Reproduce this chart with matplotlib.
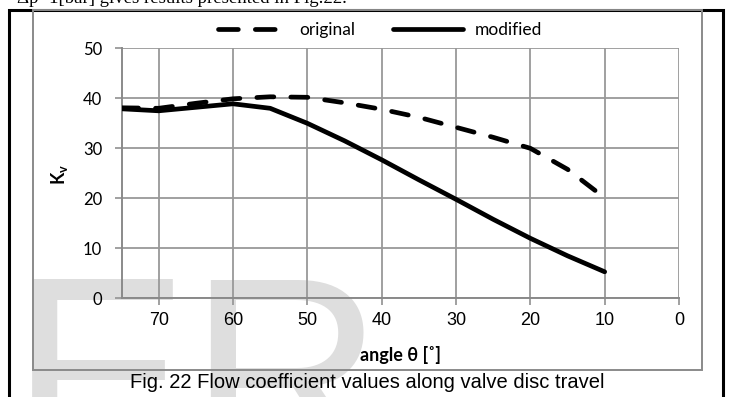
import matplotlib
matplotlib.use("Agg")
import matplotlib.pyplot as plt
from matplotlib.lines import Line2D
from matplotlib.patches import Rectangle

# data
angles = [75, 70, 65, 60, 55, 50, 45, 40, 35, 30, 25, 20, 15, 10]
kv_original = [38.1, 38.0, 39.0, 39.9, 40.3, 40.2, 39.1, 37.8, 36.2, 34.2, 32.2, 30.0, 25.8, 20.1]
kv_modified = [37.9, 37.5, 38.2, 38.9, 38.0, 35.0, 31.5, 27.7, 23.7, 19.8, 15.8, 12.0, 8.5, 5.3]
x_ticks = [70, 60, 50, 40, 30, 20, 10, 0]
y_ticks = [0, 10, 20, 30, 40, 50]

W, H = 734, 397
plt.rcParams["mathtext.fontset"] = "custom"
plt.rcParams["mathtext.bf"] = "Lato:bold"
plt.rcParams["mathtext.rm"] = "Lato"

fig = plt.figure(figsize=(W / 100, H / 100), dpi=100)


def fx(px):
    return px / W


def fy(py):
    return 1 - py / H


# watermark letters in the background
fig.text(fx(10), fy(465), "ER", fontsize=194, color="#dedede",
         family="Liberation Sans", va="baseline", ha="left", zorder=-5)

# page frame and chart box
fig.add_artist(Rectangle((fx(9), fy(420)), fx(714), fy(10) - fy(420),
                         transform=fig.transFigure, fill=False,
                         edgecolor="black", linewidth=2.2, zorder=1))
fig.add_artist(Rectangle((fx(33), fy(370)), fx(669), fy(10) - fy(370),
                         transform=fig.transFigure, fill=False,
                         edgecolor="#8a8a8a", linewidth=1.4, zorder=1))

# cut-off line of body text above the chart
fig.text(fx(17), fy(3), "\u0394p=1[bar] gives results presented in Fig.22.",
         family="Liberation Serif", fontsize=13.5, va="baseline", ha="left")

ax = fig.add_axes([fx(121.5), fy(298.3), fx(679) - fx(121.5), fy(48.3) - fy(298.3)])
ax.patch.set_alpha(0)

ax.plot(angles, kv_original, color="black", linewidth=3.4,
        dashes=(3.6, 3.6), dash_capstyle="round", solid_capstyle="round",
        zorder=3)
ax.plot(angles, kv_modified, color="black", linewidth=3.4,
        solid_capstyle="round", zorder=3)

ax.set_xlim(75, 0)
ax.set_ylim(0, 50)
ax.set_xticks(x_ticks)
ax.set_yticks(y_ticks)
ax.grid(True, color="#999999", linewidth=1.3)
ax.set_axisbelow(True)
for side in ["top", "right"]:
    ax.spines[side].set_visible(False)
for side in ["left", "bottom"]:
    ax.spines[side].set_color("#8a8a8a")
    ax.spines[side].set_linewidth(1.4)
ax.tick_params(axis="both", length=5, width=1.3, color="#999999")
ax.tick_params(axis="x", pad=5, labelsize=13)
ax.tick_params(axis="y", pad=9, labelsize=12)
for lab in ax.get_xticklabels():
    lab.set_family("Liberation Sans")
for lab in ax.get_yticklabels():
    lab.set_family("Lato")

fig.text(fx(400), fy(355), "angle \u03b8 [\u02da]", family="Lato",
         fontweight="bold", fontsize=13, ha="center", va="center")
fig.text(fx(60), fy(174), r"$\mathbf{K_v}$", fontsize=13,
         rotation=90, ha="center", va="center")

handles = [
    Line2D([0], [0], color="black", linewidth=3.4, dashes=(4.2, 3.6),
           dash_capstyle="round", label="original"),
    Line2D([0], [0], color="black", linewidth=3.4, solid_capstyle="round",
           label="modified"),
]
fig.legend(handles=handles, loc="center", bbox_to_anchor=(fx(380), fy(30)),
           ncol=2, frameon=False, prop={"family": "Lato", "size": 12.5},
           handlelength=4.0, handletextpad=0.7, columnspacing=2.2)

fig.text(fx(367), fy(383), "Fig. 22 Flow coefficient values along valve disc travel",
         family="Liberation Sans", fontsize=14.5, ha="center", va="center")

fig.savefig("out.png", dpi=100)
